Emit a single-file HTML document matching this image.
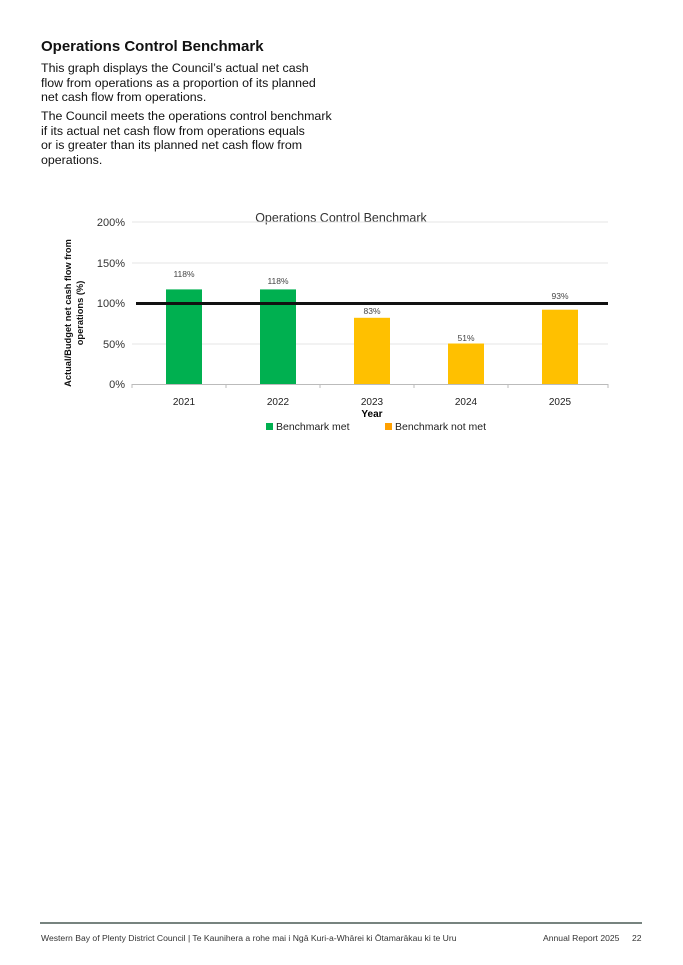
<!DOCTYPE html>
<html><head><meta charset="utf-8"><style>
body{margin:0;background:#fff;width:683px;height:965px;position:relative;font-family:"Liberation Sans",sans-serif;color:#111}
h1{position:absolute;left:41px;top:38px;margin:0;font-size:15px;font-weight:bold}
p{position:absolute;left:41px;margin:0;font-size:12.4px;line-height:14.5px;white-space:nowrap}
.f{position:absolute;top:933px;font-size:8.6px;color:#333}
</style></head><body>
<h1>Operations Control Benchmark</h1>
<p style="top:61px">This graph displays the Council’s actual net cash<br>flow from operations as a proportion of its planned<br>net cash flow from operations.</p>
<p style="top:109px">The Council meets the operations control benchmark<br>if its actual net cash flow from operations equals<br>or is greater than its planned net cash flow from<br>operations.</p>
<svg style="position:absolute;left:0;top:0" width="683" height="965" font-family="Liberation Sans, sans-serif">
<text x="341" y="222" font-size="12.5" text-anchor="middle" fill="#333">Operations Control Benchmark</text>
<g stroke="#e4e4e4" stroke-width="1"><line x1="132" x2="608" y1="222" y2="222"/><line x1="132" x2="608" y1="263" y2="263"/><line x1="132" x2="608" y1="344" y2="344"/></g>
<g font-size="11" fill="#333" text-anchor="end"><text x="125" y="226">200%</text><text x="125" y="267">150%</text><text x="125" y="307">100%</text><text x="125" y="348">50%</text><text x="125" y="388">0%</text></g>
<g fill="#00b050"><rect x="166" y="289.4" width="36" height="95"/><rect x="260" y="289.4" width="36" height="95"/></g>
<g fill="#ffc000"><rect x="354" y="317.8" width="36" height="66.6"/><rect x="448" y="343.5" width="36" height="41"/><rect x="542" y="309.7" width="36" height="74.7"/></g>
<line x1="132" x2="608" y1="384.5" y2="384.5" stroke="#bbb"/>
<g stroke="#bbb"><line x1="132" x2="132" y1="384" y2="388"/><line x1="226" x2="226" y1="384" y2="388"/><line x1="320" x2="320" y1="384" y2="388"/><line x1="414" x2="414" y1="384" y2="388"/><line x1="508" x2="508" y1="384" y2="388"/><line x1="608" x2="608" y1="384" y2="388"/></g>
<line x1="136" x2="608" y1="303.5" y2="303.5" stroke="#111" stroke-width="3"/>
<g font-size="8.5" fill="#444" text-anchor="middle"><text x="184" y="277">118%</text><text x="278" y="284">118%</text><text x="372" y="314">83%</text><text x="466" y="341">51%</text><text x="560" y="299">93%</text></g>
<g font-size="10" fill="#222" text-anchor="middle"><text x="184" y="405">2021</text><text x="278" y="405">2022</text><text x="372" y="405">2023</text><text x="466" y="405">2024</text><text x="560" y="405">2025</text></g>
<text x="372" y="417" font-size="10" font-weight="bold" text-anchor="middle">Year</text>
<rect x="266" y="423" width="7" height="7" fill="#00b050"/><text x="276" y="430" font-size="10.5" fill="#222">Benchmark met</text>
<rect x="385" y="423" width="7" height="7" fill="#ffa000"/><text x="395" y="430" font-size="10.5" fill="#222">Benchmark not met</text>
<g transform="translate(71,313) rotate(-90)" font-size="9.3" font-weight="bold" text-anchor="middle" fill="#111"><text x="0" y="0">Actual/Budget net cash flow from</text><text x="0" y="12">operations (%)</text></g>
<line x1="40" x2="642" y1="923" y2="923" stroke="#4a5a55" stroke-width="1.5"/>
</svg>
<div class="f" style="left:41px">Western Bay of Plenty District Council | Te Kaunihera a rohe mai i Ngā Kuri-a-Whārei ki Ōtamarākau ki te Uru</div>
<div class="f" style="left:543px">Annual Report 2025</div>
<div class="f" style="left:632px">22</div>
</body></html>
